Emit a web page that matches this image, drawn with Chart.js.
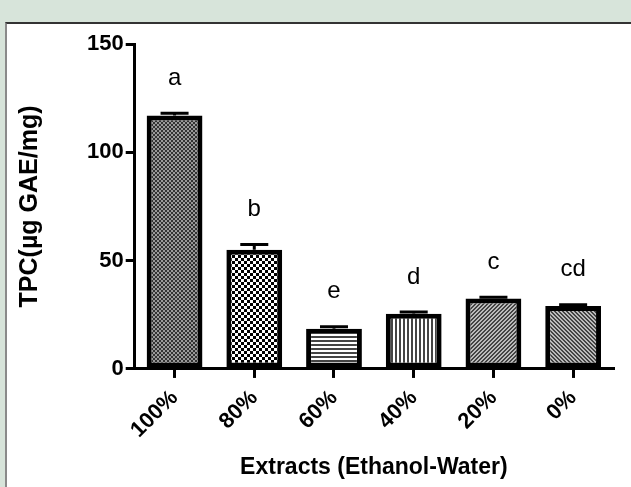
<!DOCTYPE html>
<html lang="en">
<head>
    <meta charset="UTF-8">
    <title>TPC</title>
    <style>
        body { margin: 0; background: #d7e4da; width: 631px; height: 487px; overflow: hidden; }
        #panel {
            position: absolute; left: 5px; top: 22px; width: 624px; height: 463px;
            background: #fff; border-left: 2px solid #8a8a8a; border-top: 2px solid #333;
        }
    </style>
</head>
<body>
    <div id="panel">
        <canvas id="myChart" width="624" height="463"></canvas>
    </div>

    <script src="https://cdn.jsdelivr.net/npm/chart.js"></script>
    <script>
        let labels = ['100%', '80%', '60%', '40%', '20%', '0%'];
        let tpc = [117, 55, 18.5, 25.5, 32.5, 29];
        let sem = [1, 2.5, 1, 0.8, 0.6, 0.6];
        let letters = ['a', 'b', 'e', 'd', 'c', 'cd'];
        let yTicks = [0, 50, 100, 150];

        // small fill patterns like the prism plot
        function makePattern(size, draw) {
            let c = document.createElement('canvas');
            c.width = size; c.height = size;
            let g = c.getContext('2d');
            draw(g, size);
            return g.createPattern(c, 'repeat');
        }

        let patterns = [
            makePattern(4, (g) => {        // fine grey checker
                g.fillStyle = '#9a9a9a'; g.fillRect(0, 0, 4, 4);
                g.fillStyle = '#333'; g.fillRect(0, 0, 2, 2); g.fillRect(2, 2, 2, 2);
            }),
            makePattern(6, (g) => {        // coarse black/white checker
                g.fillStyle = '#fff'; g.fillRect(0, 0, 6, 6);
                g.fillStyle = '#000'; g.fillRect(0, 0, 3, 3); g.fillRect(3, 3, 3, 3);
            }),
            makePattern(4, (g) => {        // horizontal lines
                g.fillStyle = '#fff'; g.fillRect(0, 0, 4, 4);
                g.fillStyle = '#444'; g.fillRect(0, 0, 4, 2);
            }),
            makePattern(4, (g) => {        // vertical lines
                g.fillStyle = '#fff'; g.fillRect(0, 0, 4, 4);
                g.fillStyle = '#444'; g.fillRect(0, 0, 2, 4);
            }),
            makePattern(4, (g) => {        // diagonal /
                g.fillStyle = '#bbb'; g.fillRect(0, 0, 4, 4);
                g.fillStyle = '#444';
                for (let i = 0; i < 4; i++) { g.fillRect(i, 3 - i, 1, 1); g.fillRect((i + 1) % 4, 3 - i, 1, 1); }
            }),
            makePattern(4, (g) => {        // diagonal \
                g.fillStyle = '#bbb'; g.fillRect(0, 0, 4, 4);
                g.fillStyle = '#444';
                for (let i = 0; i < 4; i++) { g.fillRect(i, i, 1, 1); g.fillRect((i + 1) % 4, i, 1, 1); }
            })
        ];

        // error bars + significance letters
        let errorBars = {
            id: 'errorBars',
            afterDatasetsDraw(chart) {
                let c = chart.ctx;
                let y = chart.scales.y;
                let meta = chart.getDatasetMeta(0);
                c.save();
                c.strokeStyle = '#000';
                c.lineWidth = 3;
                meta.data.forEach((bar, i) => {
                    let top = y.getPixelForValue(tpc[i] + sem[i]);
                    let base = y.getPixelForValue(tpc[i]);
                    c.beginPath();
                    c.moveTo(bar.x, base);
                    c.lineTo(bar.x, top);
                    c.moveTo(bar.x - 14, top);
                    c.lineTo(bar.x + 14, top);
                    c.stroke();
                    c.fillStyle = '#000';
                    c.font = '24px "Liberation Sans", Arial, sans-serif';
                    c.textAlign = 'center';
                    c.textBaseline = 'middle';
                    c.fillText(letters[i], bar.x, top - 35);
                });
                c.restore();
            }
        };

        let tickFont = { family: '"Liberation Sans", Arial, sans-serif', size: 22, weight: 'bold' };

        let chart = new Chart(document.getElementById('myChart'), {
            type: 'bar',
            data: {
                labels: labels,
                datasets: [{
                    label: 'TPC',
                    data: tpc,
                    backgroundColor: patterns,
                    borderColor: '#000',
                    borderWidth: 5,
                    borderSkipped: false,
                    barPercentage: 0.7,
                    categoryPercentage: 1
                }]
            },
            plugins: [errorBars],
            options: {
                responsive: false,
                animation: false,
                layout: { padding: { left: 4, right: 18, top: 20, bottom: 2 } },
                plugins: {
                    legend: { display: false },
                    tooltip: { enabled: false }
                },
                scales: {
                    x: {
                        border: { display: true, color: '#000', width: 3 },
                        grid: { offset: false, drawOnChartArea: false, drawTicks: true, tickLength: 9, color: '#000', lineWidth: 3 },
                        ticks: { color: '#000', font: tickFont, minRotation: 45, maxRotation: 45, padding: 7 },
                        title: {
                            display: true, text: 'Extracts (Ethanol-Water)', color: '#000',
                            font: { family: '"Liberation Sans", Arial, sans-serif', size: 23, weight: 'bold' },
                            padding: { top: 3 }
                        }
                    },
                    y: {
                        min: 0,
                        max: 150,
                        afterBuildTicks: (axis) => { axis.ticks = yTicks.map(v => ({ value: v })); },
                        border: { display: true, color: '#000', width: 3 },
                        grid: { drawOnChartArea: false, drawTicks: true, tickLength: 9, color: '#000', lineWidth: 3 },
                        ticks: { color: '#000', font: tickFont, padding: 2 },
                        title: {
                            display: true, text: 'TPC(µg GAE/mg)', color: '#000',
                            font: { family: '"Liberation Sans", Arial, sans-serif', size: 25, weight: 'bold' },
                            padding: { bottom: 40 }
                        }
                    }
                }
            }
        });
    </script>
</body>
</html>
